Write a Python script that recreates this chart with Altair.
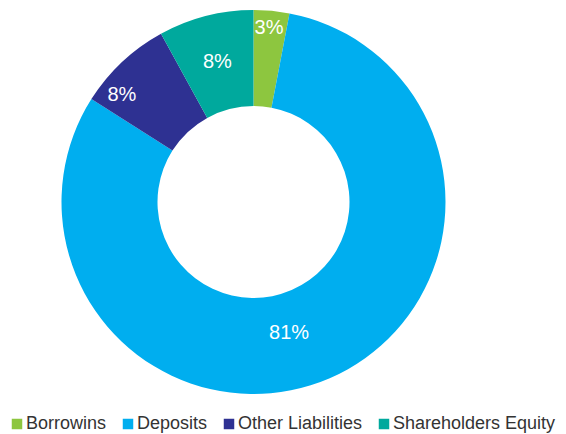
import altair as alt
import pandas as pd

categories = ["Borrowins", "Deposits", "Other Liabilities", "Shareholders Equity"]
values = [3, 81, 8, 8]
labels = ["3%", "81%", "8%", "8%"]
colors = ["#8DC63F", "#00AEEF", "#2E3192", "#00A99D"]

df = pd.DataFrame({"category": categories, "value": values, "label": labels,
                   "order": list(range(len(categories)))})

CX, CY = 245.5, 194
theta_scale = alt.Scale(domain=[0, 100], range=[0, 6.283185307179586])

color_enc = alt.Color(
    "category:N",
    scale=alt.Scale(domain=categories, range=colors),
    sort=categories,
    legend=alt.Legend(
        title=None, orient="none", direction="horizontal",
        legendX=0, legendY=407,
        symbolType="square", symbolSize=110, symbolStrokeWidth=0,
        labelFont="Liberation Sans", labelFontSize=18, labelColor="#333333",
        labelOffset=0, columnPadding=12, padding=0, labelLimit=400,
    ),
)

src = alt.Chart(df).transform_window(
    cum="sum(value)", sort=[alt.SortField("order")],
    frame=[None, 0],
).transform_calculate(
    start="datum.cum - datum.value",
    mid="datum.cum - datum.value / 2",
)

arcs = src.mark_arc(radius=192, radius2=96, stroke=None).encode(
    theta=alt.Theta("start:Q", scale=theta_scale),
    theta2="cum:Q",
    color=color_enc, x=alt.value(CX), y=alt.value(CY),
)

def lab(cat, r, dx=0, dy=0):
    return src.transform_filter(alt.datum.category == cat).mark_text(
        radius=r, font="Liberation Sans", fontSize=20, color="white",
        dx=dx, dy=dy,
    ).encode(
        theta=alt.Theta("mid:Q", scale=theta_scale),
        text="label:N", x=alt.value(CX), y=alt.value(CY),
    )

chart = alt.layer(
    arcs,
    lab("Borrowins", 175, dx=-1),
    lab("Deposits", 140, dx=-20, dy=3),
    lab("Other Liabilities", 144, dx=-33, dy=-2),
    lab("Shareholders Equity", 145),
).properties(width=548, height=395, padding=0).configure_view(strokeWidth=0)

chart.save("out.html", embed_options={"renderer": "svg", "actions": False})
